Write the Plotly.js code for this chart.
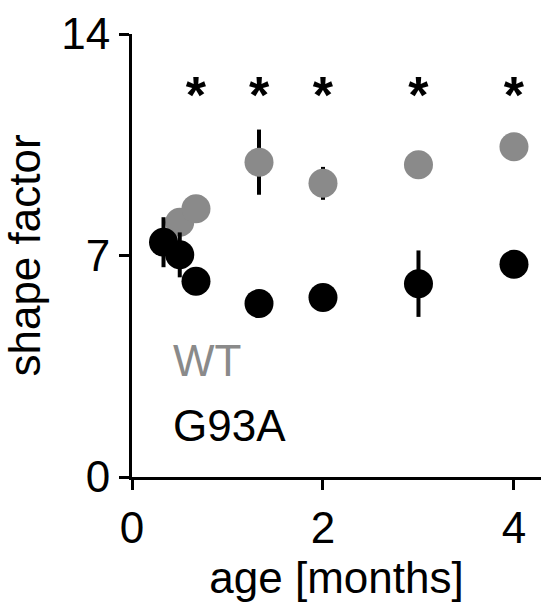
<!DOCTYPE html>
<html>
<head>
<meta charset="utf-8">
<script src="https://cdn.plot.ly/plotly-3.0.1.min.js"></script>
<style>html,body{margin:0;padding:0;background:#fff;}#chart{width:541px;height:606px;}</style>
</head>
<body>
<div id="chart"></div>
<script>
// age in months
const wtAge = [0.5, 0.67, 1.33, 2, 3, 4];
const wtShape = [8.05, 8.48, 9.95, 9.28, 9.87, 10.44];
const wtErr = [0.3, 0.3, 1.03, 0.52, 0.3, 0.3];

const g93aAge = [0.33, 0.5, 0.67, 1.33, 2, 3, 4];
const g93aShape = [7.42, 7.02, 6.19, 5.48, 5.67, 6.11, 6.72];
const g93aErr = [0.79, 0.71, 0.3, 0.3, 0.3, 1.05, 0.3];

const sigAge = [0.67, 1.33, 2, 3, 4];
const sigLevel = [11.9, 11.9, 11.9, 11.9, 11.9];
const sigMark = ['*', '*', '*', '*', '*'];

const xTicks = [0, 2, 4];
const yTicks = [0, 7, 14];

const FONT = 'Liberation Sans, Arial, sans-serif';
const GRAY = '#8a8a8a';

const traces = [
  {
    x: wtAge, y: wtShape, type: 'scatter', mode: 'markers', name: 'WT',
    marker: {color: GRAY, size: 29, line: {width: 0}},
    error_y: {type: 'data', array: wtErr, visible: true, color: '#000', thickness: 4, width: 0}
  },
  {
    x: g93aAge, y: g93aShape, type: 'scatter', mode: 'markers', name: 'G93A',
    marker: {color: '#000', size: 29, line: {width: 0}},
    error_y: {type: 'data', array: g93aErr, visible: true, color: '#000', thickness: 4, width: 0}
  },
  {
    x: sigAge, y: sigLevel, type: 'scatter', mode: 'text', text: sigMark,
    textposition: 'middle center', textfont: {family: FONT, size: 52, color: '#000', weight: 'bold'},
    hoverinfo: 'skip'
  }
];

const layout = {
  width: 541, height: 606,
  margin: {l: 132, r: 0, t: 34, b: 129},
  paper_bgcolor: '#fff', plot_bgcolor: '#fff',
  showlegend: false,
  font: {family: FONT, size: 44, color: '#000'},
  xaxis: {
    range: [0, 4.283], tickvals: xTicks, ticktext: xTicks.map(String),
    showgrid: false, zeroline: false, showline: true, linecolor: '#000', linewidth: 3,
    ticks: 'outside', ticklen: 10, tickwidth: 3, tickcolor: '#000',
    tickfont: {family: FONT, size: 44, color: '#000'},
    title: {text: 'age [months]', font: {family: FONT, size: 44, color: '#000'}, standoff: 12}
  },
  yaxis: {
    range: [0, 14], tickvals: yTicks, ticktext: yTicks.map(String),
    showgrid: false, zeroline: false, showline: true, linecolor: '#000', linewidth: 3,
    ticks: 'outside', ticklen: 10, tickwidth: 3, tickcolor: '#000',
    tickfont: {family: FONT, size: 44, color: '#000'},
    title: {text: 'shape factor', font: {family: FONT, size: 44, color: '#000'}, standoff: 12}
  },
  annotations: [
    {x: 0.41, y: 3.67, xref: 'x', yref: 'y', text: 'WT', showarrow: false, xanchor: 'left', yanchor: 'middle',
     font: {family: FONT, size: 44, color: GRAY}},
    {x: 0.41, y: 1.64, xref: 'x', yref: 'y', text: 'G93A', showarrow: false, xanchor: 'left', yanchor: 'middle',
     font: {family: FONT, size: 44, color: '#000'}}
  ]
};

Plotly.newPlot('chart', traces, layout, {displayModeBar: false, staticPlot: true});
</script>
</body>
</html>
